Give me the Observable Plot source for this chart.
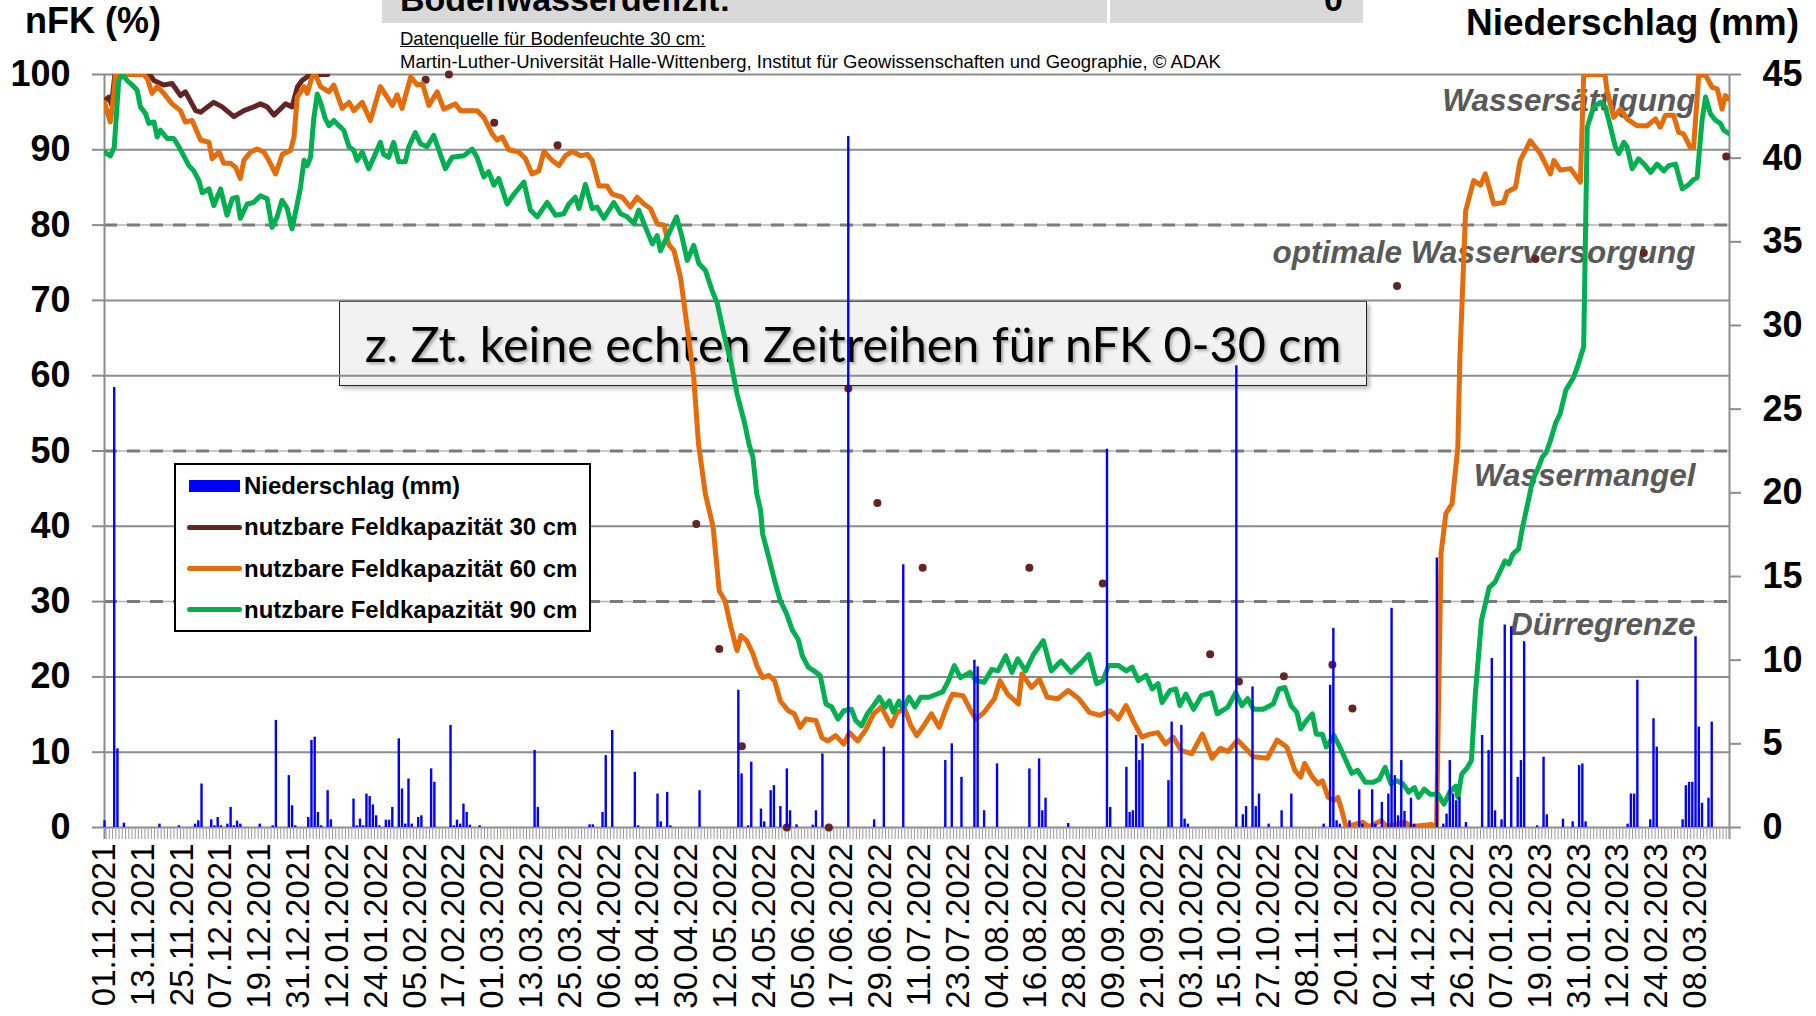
<!DOCTYPE html>
<html><head><meta charset="utf-8">
<script src="https://cdn.jsdelivr.net/npm/d3@7"></script>
<script src="https://cdn.jsdelivr.net/npm/@observablehq/plot@0.6"></script>
<style>
body{margin:0;background:#fff;font-family:"Liberation Sans",Arial,sans-serif;}
#wrap{position:relative;width:1816px;height:1016px;overflow:hidden;background:#fff;}
.abs{position:absolute;white-space:nowrap;line-height:1;}
#wrap svg{position:absolute;left:0;top:0;}
</style></head><body><div id="wrap"></div>
<script>
// ---------- DATA (day index counted from 01.11.2021) ----------
const xLabels = ["01.11.2021","13.11.2021","25.11.2021","07.12.2021","19.12.2021","31.12.2021","12.01.2022","24.01.2022","05.02.2022","17.02.2022","01.03.2022","13.03.2022","25.03.2022","06.04.2022","18.04.2022","30.04.2022","12.05.2022","24.05.2022","05.06.2022","17.06.2022","29.06.2022","11.07.2022","23.07.2022","04.08.2022","16.08.2022","28.08.2022","09.09.2022","21.09.2022","03.10.2022","15.10.2022","27.10.2022","08.11.2022","20.11.2022","02.12.2022","14.12.2022","26.12.2022","07.01.2023","19.01.2023","31.01.2023","12.02.2023","24.02.2023","08.03.2023"];
const leftTicks = [0,10,20,30,40,50,60,70,80,90,100];
const rightTicks = [0,5,10,15,20,25,30,35,40,45];
const dashedLevels = [30,50,80];
const solidLevels = [0,10,20,40,60,70,90,100];
const zoneNames = ["Wassersättigung","optimale Wasserversorgung","Wassermangel","Dürregrenze"];
const zoneLevels = [95.2,75.0,45.4,25.5];

// precipitation [day, mm]
const precip = [[0,0.4],[3,26.3],[4,4.7],[6,0.26],[17,0.2],[23,0.1],[28,0.2],[29,0.4],[30,2.6],[33,0.46],[34,0.1],[35,0.6],[36,0.1],[38,0.2],[39,1.2],[40,0.1],[41,0.38],[42,0.2],[48,0.2],[52,0.1],[53,6.4],[57,3.1],[58,1.3],[59,0.1],[63,0.6],[64,5.2],[65,5.4],[66,0.9],[67,0.1],[69,2.2],[70,0.46],[77,1.7],[78,0.1],[79,0.5],[80,0.1],[81,2.0],[82,1.85],[83,1.35],[84,0.7],[85,0.1],[87,0.44],[88,0.44],[89,1.2],[91,5.3],[92,2.3],[93,0.2],[94,2.9],[95,0.2],[97,0.6],[98,0.7],[101,3.5],[102,2.7],[107,6.1],[108,0.1],[109,0.44],[110,0.2],[111,1.4],[112,0.9],[113,0.14],[116,0.1],[133,4.6],[134,1.2],[150,0.16],[151,0.16],[154,0.9],[155,4.3],[157,5.8],[164,3.3],[165,0.1],[171,2.0],[172,0.34],[174,2.1],[175,0.1],[184,2.2],[196,8.2],[197,3.2],[199,0.1],[200,3.9],[203,1.1],[204,0.34],[206,2.2],[207,2.5],[209,1.25],[211,3.5],[212,1.0],[214,0.16],[219,0.14],[220,1.0],[222,4.4],[230,41.3],[238,0.46],[241,4.8],[247,15.7],[260,4.0],[262,5.0],[265,3.0],[269,10.0],[270,9.6],[272,1.0],[276,3.8],[286,3.5],[289,4.1],[290,1.0],[291,1.75],[298,0.24],[310,22.6],[311,1.2],[316,3.6],[317,0.9],[318,1.0],[319,5.5],[320,4.0],[321,5.0],[329,2.8],[330,6.3],[333,6.1],[334,0.5],[335,0.2],[350,27.6],[352,0.76],[353,1.25],[355,8.4],[356,1.25],[357,2.0],[360,0.2],[364,1.0],[367,2.0],[377,0.2],[379,8.5],[380,11.9],[381,0.4],[382,0.2],[385,0.4],[388,2.25],[389,0.2],[392,2.25],[393,0.2],[395,1.5],[397,2.0],[398,13.1],[399,3.1],[400,0.7],[401,4.0],[402,0.96],[404,1.75],[405,0.2],[412,16.1],[414,0.2],[415,0.8],[416,4.0],[417,2.0],[418,1.6],[419,1.8],[421,0.3],[426,5.5],[428,4.6],[429,10.1],[430,1.0],[432,0.46],[433,12.1],[435,12.0],[437,3.0],[438,4.0],[439,11.1],[443,0.1],[445,4.2],[446,0.76],[451,0.5],[454,0.34],[456,3.7],[457,3.8],[458,0.34],[471,0.2],[472,2.0],[473,2.0],[474,8.8],[478,0.46],[479,6.5],[480,4.8],[488,0.46],[489,2.5],[490,2.7],[491,2.7],[492,11.4],[493,6.0],[494,1.45],[496,1.75],[497,6.3]];

// nFK 30 cm: continuous part and isolated values [day, %]
const nfk30Line = [[0,96.5],[1.3,97],[2.2,96],[3.2,100],[14,100],[15.3,99.2],[18.3,98.6],[20.9,98.8],[23.5,97.2],[25,97.7],[28.2,95.2],[29.7,95.0],[33.8,96.3],[36.4,95.7],[40,94.4],[43.1,95.2],[46.2,95.7],[48.2,96.1],[50.3,95.7],[52.4,94.6],[56,96.1],[58,95.7],[59.6,98.3],[61.1,99.2],[63.7,100],[69,100]];
const nfk30Dots = [[99.3,99.3],[106.5,100],[120.5,93.6],[140.1,90.6],[183,40.3],[190.1,23.7],[197.1,10.8],[211,0],[224,0],[230,58.3],[239,43.1],[253,34.5],[286,34.5],[308.7,32.4],[341.9,23.0],[350.8,19.4],[364.7,20.1],[379.7,21.6],[385.9,15.8],[399.7,71.9],[442.5,75.5],[476,76.3],[501.5,89.1]];

// nFK 60 cm [day, %]
const nfk60 = [[0,96.3],[1.8,93.7],[2.9,97.5],[3.4,100],[12,100],[13.2,99.5],[14.7,97.5],[16.3,98.4],[18.3,97.5],[20.9,96.1],[23.5,95.2],[25,93.7],[27.1,93.9],[29.7,91.3],[32.3,91.0],[33.3,88.8],[35.4,89.7],[36.9,88.2],[39,88.2],[40.5,87.7],[42,86.2],[43.1,88.6],[45.2,89.7],[47.2,90.1],[49.3,89.7],[50.8,88.6],[52.9,86.8],[55,89.4],[57.5,89.9],[58.6,91.7],[59.6,97],[61.7,98.4],[62.7,97.5],[64.2,99.7],[65.2,100],[66.8,98.4],[69.4,97.7],[70.9,98.6],[73.5,95.5],[75.6,96.3],[77.1,95.2],[79.7,96.3],[82.2,93.9],[85.3,98.4],[87.4,97],[89,95.9],[90.5,97.3],[92,95.5],[94.7,99.7],[96.7,98.6],[98.3,98.8],[100.3,95.9],[102.9,97.7],[104.9,95.4],[108.5,96.1],[110.1,95.2],[115.2,95.2],[117.3,94.3],[119.9,92.1],[121.4,91.3],[123,91.7],[125,90],[128.1,89.7],[130.2,88.8],[132.2,86.8],[134.3,87.2],[135.9,89.8],[138.4,88.6],[140.5,87.9],[142.5,89.2],[144.6,89.8],[147.2,89.2],[149.3,89.4],[150.8,88.6],[152.9,85.2],[155.4,85.2],[157,84.1],[160.1,83.7],[162.6,82.4],[164.7,83.7],[166.8,82.8],[168.8,82.2],[170.9,80.2],[173,80],[174.5,77.4],[176.1,76.6],[178.1,73.1],[180.2,66.4],[182.2,59.8],[183.7,50.9],[185.8,44.3],[188.2,39.9],[190.1,31.4],[191.9,30.1],[193.7,26.6],[195.6,23.5],[196.8,25.5],[198.6,24.8],[200.5,23.1],[201.7,21.5],[203.5,19.9],[205.4,20.2],[207.2,19.5],[209,16.8],[211.5,15.5],[213.3,15.1],[215.1,13.3],[216.9,14.4],[220,14.2],[221.9,11.9],[223.7,11.5],[226.1,12.2],[228.6,11.1],[230.4,12.6],[232.9,11.5],[235.3,12.9],[237.8,15.1],[240.2,16.0],[243.3,13.5],[245.1,15.3],[247.5,15.7],[249.4,13.5],[251.2,12.2],[253.3,13.5],[255.7,15.1],[258.1,13.3],[260.6,16.2],[262.2,17.7],[265.5,17.5],[267.9,15.5],[269.5,14.4],[272,15.3],[275.2,17.1],[276.9,19.5],[279.3,17.7],[282.6,16.4],[283.7,20.4],[286.6,18.6],[289.1,19.7],[291.5,17.3],[294.8,17.1],[298,18.2],[301.3,17.1],[304.5,15.3],[307.8,14.9],[311,15.5],[313.5,14.4],[315.9,16.2],[318.3,14.0],[320.8,12.0],[323.2,12.4],[325.7,12.6],[328.1,11.1],[330.5,12.0],[333,10.2],[336.2,9.8],[339.5,12.4],[342.5,9.2],[345,10.5],[347.4,10.1],[350.4,11.6],[352.9,10.5],[355.3,9.4],[359.6,9.2],[362.6,11.6],[365.6,10.7],[368.1,7.6],[369.9,6.7],[371.1,8.5],[373.5,6.7],[375.3,5.8],[376.6,6.2],[378.4,4.0],[380.2,3.6],[381.4,4.0],[382.6,2.3],[383.9,0.1],[389.1,0.7],[391,0.1],[394.8,0.9],[396.5,0.1],[402.1,0.7],[404,0.1],[410.3,0.4],[411.9,0.1],[413.3,36.4],[414.8,41.7],[416.7,43.0],[418.5,50.5],[419.1,62.0],[420.9,81.9],[423.4,85.9],[425.5,85.3],[427,86.8],[429.6,82.8],[432.7,83.0],[433.7,84.4],[436.3,85.0],[437.8,88.6],[440.9,91.2],[444,89.5],[447.1,86.8],[448.2,88.6],[450.2,87.3],[453.3,87.5],[456.4,85.7],[457.4,100],[464,100],[464.6,97.9],[466.7,94.3],[468.8,95.4],[470.8,94.1],[473.9,93.2],[477,93.2],[479.6,94.1],[481.1,93.0],[482.7,94.6],[485.2,94.6],[486.8,92.3],[488.3,92.1],[490.4,90.3],[491.4,90.3],[493,100],[495.1,99.9],[497.1,98.3],[498.7,98.1],[500.2,95.4],[501.2,97.2],[502.5,96.7]];

// nFK 90 cm [day, %]
const nfk90 = [[0,89.7],[1.8,89.2],[3.0,90.3],[4.4,99.2],[5.5,100],[7.0,99.2],[8.6,98.6],[10.1,97.9],[11.1,95.7],[12.7,94.8],[13.7,93.5],[15.3,93.7],[16.3,91.7],[17.3,92.6],[19.4,91.5],[21.4,91.5],[23.0,90.4],[24.5,89.2],[26.1,87.9],[27.6,87.2],[29.2,85.9],[30.2,84.3],[32.3,84.8],[33.8,82.6],[35.9,84.8],[37.9,81.3],[39.5,83.5],[41.0,83.7],[42.0,80.9],[44.1,82.8],[46.1,83.0],[48.2,83.9],[50.3,83.5],[51.8,79.7],[53.4,81.1],[54.9,83.3],[56.5,82.2],[58,79.5],[59.6,82.8],[60.6,85.0],[61.7,88.6],[62.7,87.9],[63.7,89.0],[64.7,94.1],[65.8,97.4],[66.8,96.3],[68.3,94.1],[69.4,93.2],[70.9,93.9],[72.5,93.2],[74.0,92.6],[75.6,90.4],[77.1,89.9],[78.1,88.6],[79.7,89.7],[81.7,87.5],[83.3,89.0],[85.3,91.0],[86.3,89.4],[87.9,89.0],[89.4,91.0],[91.0,88.4],[93.0,88.4],[94.1,90.4],[96.1,92.3],[97.7,90.8],[99.7,90.4],[101.8,91.9],[103.3,90.1],[105.4,87.5],[107.5,89.0],[111.1,89.2],[113.7,90.1],[115.2,89.0],[117.3,86.4],[118.8,87.1],[120.4,85.3],[121.9,86.2],[124.5,82.8],[126.6,84.1],[129.7,85.7],[131.7,82.0],[133.8,81.1],[136.9,83.0],[139.5,81.3],[142.0,81.5],[143.6,82.8],[145.6,83.7],[146.7,82.2],[148.7,85.4],[150.8,82.2],[152.3,82.4],[154.4,80.9],[157.5,83.0],[159.6,81.5],[161.6,81.1],[163.7,80.2],[165.2,82.0],[167.3,79.7],[169.4,77.5],[170.9,78.6],[171.9,76.6],[174.5,78.9],[176.9,81.1],[178.6,78.4],[180.2,75.3],[182.2,77.3],[183.8,74.9],[185.8,74.0],[187.9,71.3],[189.5,69.6],[191.5,65.6],[193.6,62.0],[195.6,57.6],[198.0,53.6],[199.3,50.9],[200.5,49.2],[201.7,44.3],[202.9,42.1],[203.5,39.0],[205.4,35.9],[207.2,32.8],[209.0,30.1],[210.9,28.4],[212.7,26.2],[214.5,25.0],[215.8,22.8],[217.6,21.3],[219.4,20.8],[221.3,20.2],[223.1,16.4],[224.9,16.0],[226.8,14.4],[228.6,15.5],[231.0,15.7],[232.3,14.2],[234.1,13.5],[235.9,15.1],[237.8,16.2],[239.6,17.3],[241.4,16.0],[242.7,16.8],[243.9,15.3],[245.7,16.8],[246.9,15.7],[248.8,17.3],[250.6,16.0],[252.4,17.3],[254.9,17.3],[257.3,17.7],[259.2,18.0],[261.0,19.5],[262.8,21.5],[264.7,19.9],[267.7,20.6],[269.5,19.5],[272.0,19.3],[274.4,21.0],[276.3,20.8],[278.7,22.8],[280.6,20.6],[282.4,22.4],[284.8,20.8],[287.3,23.0],[290.3,24.8],[292.8,20.8],[295.8,22.1],[298.9,20.6],[302.0,21.9],[304.4,23.0],[306.8,19.1],[308.7,19.5],[310.5,21.5],[313.6,21.5],[316.0,20.8],[317.8,21.3],[319.7,19.5],[322.1,20.2],[324.0,18.4],[325.8,19.1],[327.0,16.6],[329.5,18.2],[331.3,18.4],[332.5,16.2],[334.4,17.7],[336.8,15.7],[339.2,17.5],[342.3,17.9],[344.1,15.1],[347.4,16.0],[349.8,17.9],[351.7,16.2],[353.5,17.1],[355.3,15.7],[358.3,15.7],[361.4,16.4],[363.2,18.4],[365.0,18.6],[366.9,16.2],[368.7,15.3],[369.9,13.1],[371.7,14.2],[373.5,15.1],[374.7,12.4],[376.6,12.4],[377.8,10.7],[380.2,12.2],[382.0,10.7],[383.9,8.9],[385.7,7.2],[387.5,7.6],[389.9,6.0],[392.4,6.0],[394.2,6.4],[396.0,8.0],[397.8,5.8],[399.6,6.2],[401.5,5.8],[403.3,4.7],[405.1,5.3],[406.3,4.0],[408.1,5.1],[410.0,4.4],[412.4,4.4],[414.2,3.1],[416.0,4.7],[417.9,5.5],[418.5,4.0],[419.7,7.1],[421.5,8.0],[422.7,8.9],[423.9,17.7],[425.8,27.5],[428.2,31.9],[430.0,32.6],[431.2,33.7],[433.1,35.4],[434.3,35.0],[435.5,36.3],[437.3,37.0],[438.5,39.9],[440.3,43.4],[441.6,46.1],[443.4,47.8],[444.6,49.2],[445.8,49.8],[447.0,51.2],[448.8,53.8],[450.1,54.9],[451.9,58.1],[454.3,59.8],[455.4,61.1],[457.4,63.8],[458.0,79.7],[458.5,93.0],[460.5,95.7],[462.6,96.3],[464.1,95.7],[465.7,93.0],[467.2,90.4],[468.3,89.5],[469.8,91.0],[470.8,90.4],[472.4,87.5],[474.4,88.8],[476.5,87.9],[478.1,87.0],[480.1,88.1],[482.2,87.2],[483.7,87.9],[485.8,88.1],[487.9,84.8],[489.9,85.4],[491.5,86.1],[492.5,86.3],[494.0,93.9],[495.1,97.0],[496.6,94.8],[498.2,93.9],[499.7,93.5],[500.7,92.6],[502.5,92.1]];

// ---------- CHART ----------
const xMax = 502.5;
const mmToY = mm => mm * 100 / 45;   // secondary axis (0–45 mm) mapped onto the 0–100 % scale
const labelDays = xLabels.map((_, i) => i * 12);
const dailyTicks = d3.range(0.5, 503, 1);
const gridColor = "#8c8c8c";
const FONT = "Liberation Sans, Arial, sans-serif";

const wrap = document.getElementById("wrap");

// text box (drawn behind the data)
const box = document.createElement("div");
box.className = "abs";
Object.assign(box.style, {left:"339px", top:"301px", width:"1026px", height:"83px", background:"#f2f2f2",
  border:"1px solid #222", boxShadow:"3px 3px 4px rgba(0,0,0,0.25)", display:"flex", alignItems:"center",
  justifyContent:"center", fontFamily:"Lato, 'Open Sans', sans-serif", fontSize:"48.5px", color:"#000",
  textShadow:"2px 2px 3px rgba(0,0,0,0.3)"});
box.textContent = "z. Zt. keine echten Zeitreihen für nFK 0-30 cm";
wrap.appendChild(box);

const chart = Plot.plot({
  width: 1816, height: 1016,
  marginLeft: 104, marginRight: 87, marginTop: 74, marginBottom: 189,
  style: {fontFamily: FONT, background: "transparent", color: "#000"},
  x: {type: "linear", domain: [0, xMax], axis: null},
  y: {domain: [0, 100], axis: null},
  marks: [
    Plot.ruleY(solidLevels, {stroke: gridColor, strokeWidth: 2}),
    Plot.ruleY(dashedLevels, {stroke: "#b4b4b4", strokeWidth: 1.5}),
    Plot.ruleY(dashedLevels, {stroke: "#7a7a7a", strokeWidth: 3, strokeDasharray: "13,10"}),
    Plot.ruleX([0, xMax], {stroke: gridColor, strokeWidth: 2, insetBottom: -12}),
    Plot.axisY(leftTicks, {anchor: "left", tickSize: 12, tickPadding: 22, stroke: gridColor, strokeWidth: 2,
      fill: "#000", fontSize: 36, fontWeight: "bold", label: null}),
    Plot.axisY(rightTicks.map(mmToY), {anchor: "right", tickSize: 11, tickPadding: 22, stroke: gridColor, strokeWidth: 2,
      fill: "#000", fontSize: 36, fontWeight: "bold", label: null, tickFormat: v => String(Math.round(v * 45 / 100))}),
    Plot.axisX(dailyTicks, {anchor: "bottom", tickSize: 12, stroke: "#9a9a9a", strokeWidth: 1, tickFormat: () => "", label: null}),
    Plot.axisX(labelDays, {anchor: "bottom", tickSize: 0, tickPadding: 16, tickRotate: -90, fill: "#000",
      fontSize: 33, label: null, tickFormat: d => xLabels[Math.round(d / 12)]}),
    Plot.text(zoneNames, {x: () => xMax, y: (d, i) => zoneLevels[i], text: d => d, frameAnchor: "right", dx: -34,
      textAnchor: "end", lineAnchor: "bottom", fontSize: 31.5, fontWeight: "bold", fontStyle: "italic", fill: "#595959"}),
    Plot.line(nfk30Line, {x: d => d[0], y: d => d[1], stroke: "#632523", strokeWidth: 5, strokeLinejoin: "round", clip: true}),
    Plot.dot(nfk30Dots, {x: d => d[0], y: d => d[1], r: 4, fill: "#632523", stroke: "none"}),
    Plot.line(nfk60, {x: d => d[0], y: d => d[1], stroke: "#e46c0a", strokeWidth: 5, strokeLinejoin: "round", clip: true}),
    Plot.line(nfk90, {x: d => d[0], y: d => d[1], stroke: "#00b050", strokeWidth: 5, strokeLinejoin: "round", clip: true}),
    Plot.ruleX(precip, {x: d => d[0], y1: 0, y2: d => mmToY(d[1]), stroke: "#0000ff", strokeWidth: 2.4})
  ]
});
wrap.appendChild(chart);

function addText(txt, css) {
  const el = document.createElement("div");
  el.className = "abs";
  el.textContent = txt;
  Object.assign(el.style, css);
  wrap.appendChild(el);
  return el;
}
// header box (cut off at the top, as in the original)
const hdr = document.createElement("div");
hdr.className = "abs";
Object.assign(hdr.style, {left:"382px", top:"0px", width:"981px", height:"23px", background:"#d9d9d9", overflow:"hidden"});
wrap.appendChild(hdr);
const sep = document.createElement("div");
sep.className = "abs";
Object.assign(sep.style, {left:"1107px", top:"0px", width:"3px", height:"23px", background:"#fff"});
wrap.appendChild(sep);
addText("Bodenwasserdefizit:", {left:"400px", top:"-18px", fontSize:"34px", fontWeight:"bold", color:"#000", fontFamily: FONT});
addText("0", {left:"1324px", top:"-18px", fontSize:"34px", fontWeight:"bold", color:"#000", fontFamily: FONT});

addText("nFK (%)", {left:"25px", top:"3px", fontSize:"36px", fontWeight:"bold", fontFamily: FONT});
addText("Niederschlag (mm)", {right:"17px", top:"4px", fontSize:"37px", fontWeight:"bold", fontFamily: FONT});
addText("Datenquelle für Bodenfeuchte 30 cm:", {left:"400px", top:"30px", fontSize:"18.5px", textDecoration:"underline", fontFamily: FONT});
addText("Martin-Luther-Universität Halle-Wittenberg, Institut für Geowissenschaften und Geographie, © ADAK", {left:"400px", top:"53px", fontSize:"18.5px", fontFamily: FONT});

// legend
const legendItems = ["Niederschlag (mm)","nutzbare Feldkapazität 30 cm","nutzbare Feldkapazität 60 cm","nutzbare Feldkapazität 90 cm"];
const legendColors = ["#0000ff","#632523","#e46c0a","#00b050"];
const leg = document.createElement("div");
leg.className = "abs";
Object.assign(leg.style, {left:"174px", top:"463px", width:"413px", height:"165px", background:"#fff", border:"2px solid #000"});
wrap.appendChild(leg);
legendItems.forEach((t, i) => {
  const cy = 21 + i * 41.3;
  const sw = document.createElement("div");
  sw.className = "abs";
  if (i === 0) Object.assign(sw.style, {left:"13px", top:(cy - 6) + "px", width:"51px", height:"12px", background: legendColors[i]});
  else Object.assign(sw.style, {left:"11px", top:(cy - 2.5) + "px", width:"55px", height:"5px", borderRadius:"3px", background: legendColors[i]});
  leg.appendChild(sw);
  const tx = document.createElement("div");
  tx.className = "abs";
  tx.textContent = t;
  Object.assign(tx.style, {left:"68px", top:(cy - 12) + "px", fontSize:"24px", fontWeight:"bold", fontFamily: FONT});
  leg.appendChild(tx);
});
</script>
</body></html>
